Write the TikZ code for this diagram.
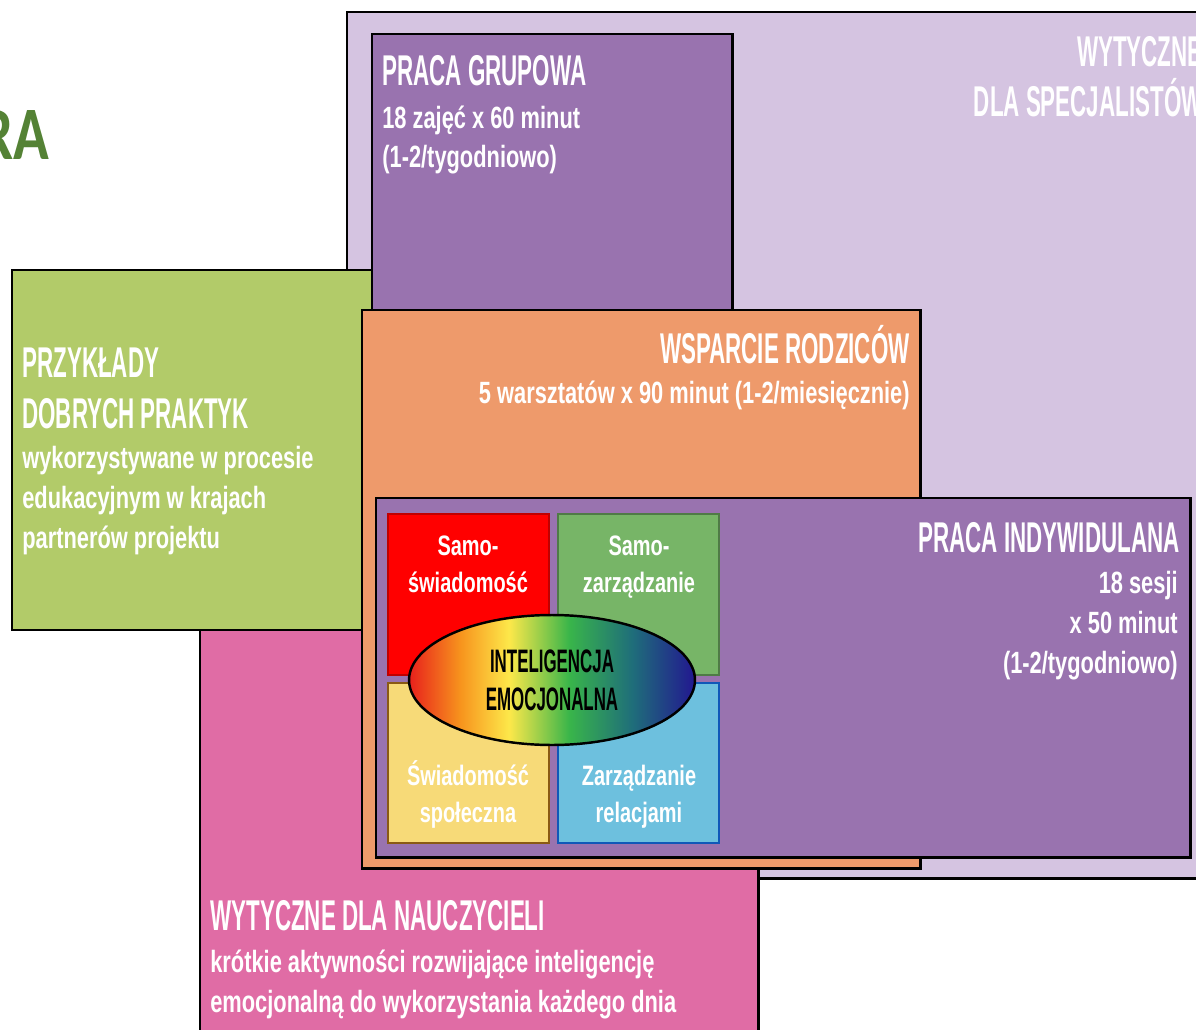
\documentclass[tikz,border=0pt]{standalone}
\usepackage{fontspec}
\usetikzlibrary{shapes.geometric}
\setmainfont{Liberation Sans}
\newfontfamily\titlefont{Liberation Sans}[FakeStretch=0.52]
\newfontfamily\bodyfont{Liberation Sans}[FakeStretch=0.71]
\newfontfamily\headfont{Carlito}[FakeStretch=0.78]
\definecolor{lilacbg}{HTML}{D5C4E1}
\definecolor{purplebox}{HTML}{9973AF}
\definecolor{greenbox}{HTML}{B2CB69}
\definecolor{pinkbox}{HTML}{E06CA5}
\definecolor{orangebox}{HTML}{EE9A6B}
\definecolor{redq}{HTML}{FF0000}
\definecolor{redqline}{HTML}{C00000}
\definecolor{greenq}{HTML}{77B567}
\definecolor{greenqline}{HTML}{4F7B46}
\definecolor{yellowq}{HTML}{F7DA78}
\definecolor{yellowqline}{HTML}{8A5A14}
\definecolor{blueq}{HTML}{6DC0DE}
\definecolor{blueqline}{HTML}{1058B8}
\definecolor{ragreen}{HTML}{548235}
\definecolor{eired}{HTML}{E8201C}
\definecolor{eiorange}{HTML}{F7941D}
\definecolor{eiyellow}{HTML}{FDE84A}
\definecolor{eigreen}{HTML}{39B54A}
\definecolor{eiteal}{HTML}{1F6E7A}
\definecolor{eiblue}{HTML}{221790}
\pgfdeclarehorizontalshading{eirainbow}{100bp}{color(0bp)=(eired); color(25bp)=(eired); color(34bp)=(eiorange); color(42.5bp)=(eiyellow); color(53bp)=(eigreen); color(64bp)=(eiteal); color(75bp)=(eiblue); color(100bp)=(eiblue)}
\begin{document}
\begin{tikzpicture}[x=0.02cm, y=-0.02cm,
    panel/.style={draw=black, line width=1.7pt},
    quad/.style={line width=1.2pt},
    headtext/.style={font=\titlefont\bfseries\fontsize{24.5}{29}\selectfont, text=white, inner sep=0pt},
    bodytext/.style={font=\bodyfont\bfseries\fontsize{17.5}{22.6}\selectfont, text=white, inner sep=0pt},
    quadtext/.style={font=\bodyfont\bfseries\fontsize{16}{21}\selectfont, text=white, inner sep=0pt, align=center}]
\useasboundingbox (0,0) rectangle (1196,1030);
% Heading cut off on the left
              \node[font=\headfont\bfseries\fontsize{43}{43}\selectfont, text=ragreen, anchor=base east, inner sep=0pt] (headpart) at (50,160) {RA};
% Guidelines for specialists, in the back
              \draw[panel, fill=lilacbg] (347,12) rectangle (1215,878);
              \node[headtext, align=right, anchor=base east] (spectitle) at (1203,117) {WYTYCZNE\\DLA SPECJALISTÓW};
% Group work
              \draw[panel, fill=purplebox] (372,34) rectangle (732,330);
              \node[headtext, anchor=base west] (grouptitle) at (382,86) {PRACA GRUPOWA};
              \node[bodytext, align=left, anchor=base west] (groupinfo) at (382,168) {18 zajęć x 60 minut\\(1-2/tygodniowo)};
% Guidelines for teachers
              \draw[panel, fill=pinkbox] (200,600) rectangle (758,1045);
              \node[headtext, anchor=base west] (teachtitle) at (210,930) {WYTYCZNE DLA NAUCZYCIELI};
              \node[bodytext, align=left, anchor=base west] (teachinfo) at (210,1012) {krótkie aktywności rozwijające inteligencję\\emocjonalną do wykorzystania każdego dnia};
% Good practices
              \draw[panel, fill=greenbox] (12,270) rectangle (372,630);
              \node[headtext, align=left, anchor=base west] (practicetitle) at (22,428) {PRZYKŁADY\\DOBRYCH PRAKTYK};
              \node[bodytext, align=left, anchor=base west] (practiceinfo) at (22,548) {wykorzystywane w procesie\\edukacyjnym w krajach\\partnerów projektu};
% Parents support
              \draw[panel, fill=orangebox] (362,310) rectangle (920,868);
              \node[headtext, anchor=base east] (parenttitle) at (910,363) {WSPARCIE RODZICÓW};
              \node[bodytext, anchor=base east] (parentinfo) at (910,403) {5 warsztatów x 90 minut (1-2/miesięcznie)};
% Individual work
              \draw[panel, fill=purplebox] (376,498) rectangle (1190,857);
              \node[headtext, anchor=base east] (indivtitle) at (1180,552) {PRACA INDYWIDULANA};
              \node[bodytext, align=right, anchor=base east] (indivinfo) at (1178,673) {18 sesji\\x 50 minut\\(1-2/tygodniowo)};
% Four squares
              \draw[quad, fill=redq, draw=redqline] (388,514) rectangle (549,675);
              \draw[quad, fill=greenq, draw=greenqline] (558,514) rectangle (719,675);
              \draw[quad, fill=yellowq, draw=yellowqline] (388,683) rectangle (549,843);
              \draw[quad, fill=blueq, draw=blueqline] (558,683) rectangle (719,843);
              \node[quadtext, anchor=base] (selfaware) at (468,592) {Samo-\\świadomość};
              \node[quadtext, anchor=base] (selfmanage) at (639,592) {Samo-\\zarządzanie};
              \node[quadtext, anchor=base] (socialaware) at (468,822) {Świadomość\\społeczna};
              \node[quadtext, anchor=base] (relations) at (639,822) {Zarządzanie\\relacjami};
% Ellipse in the middle
              \node[ellipse, draw=black, line width=1.4pt, shade, shading=eirainbow, minimum width=5.72cm, minimum height=2.6cm, inner sep=0pt, align=center, font=\titlefont\bfseries\fontsize{18.5}{21.6}\selectfont] (eicore) at (552,680) {INTELIGENCJA\\EMOCJONALNA};
\end{tikzpicture}
\end{document}
